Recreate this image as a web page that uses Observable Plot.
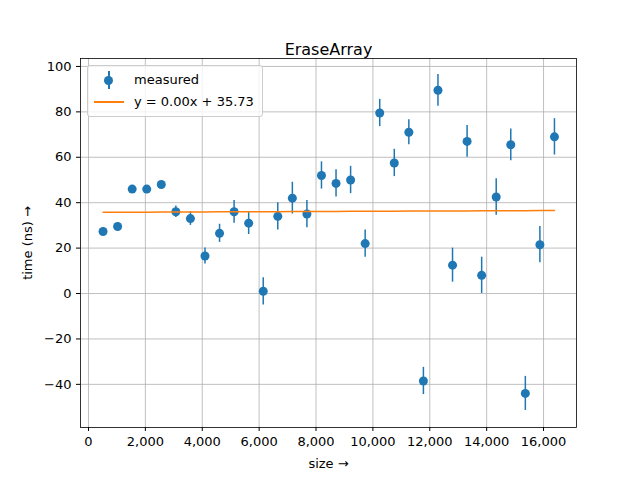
<!DOCTYPE html>
<html><head><meta charset="utf-8">
<script src="https://cdn.jsdelivr.net/npm/d3@7"></script>
<script src="https://cdn.jsdelivr.net/npm/@observablehq/plot@0.6"></script>
<style>
body{margin:0;background:#fff;font-family:"DejaVu Sans",sans-serif}
#wrap{position:relative;width:640px;height:480px}
#legend{position:absolute;left:87px;top:65px;border:1px solid #ccc;border-radius:3px;background:rgba(255,255,255,0.8);padding:3px 8px 3px 6px;font-size:13px;line-height:22px}
.row{display:flex;align-items:center}
.sw{width:30px;height:14px;position:relative;margin-right:10px}
</style>
</head><body>
<div id="wrap"><div id="chart"></div>
<div id="legend">
<div class="row"><div class="sw"><div style="position:absolute;left:14px;top:-2px;width:2px;height:18px;background:#1f77b4"></div><div style="position:absolute;left:10px;top:3px;width:9px;height:9px;border-radius:50%;background:#1f77b4"></div></div>measured</div>
<div class="row"><div class="sw"><div style="position:absolute;left:0;top:6px;width:30px;height:2px;background:#ff7f0e"></div></div>y = 0.00x + 35.73</div>
</div></div>
<script>
const sizes = [512,1024,1536,2048,2560,3072,3584,4096,4608,5120,5632,6144,6656,7168,7680,8192,8704,9216,9728,10240,10752,11264,11776,12288,12800,13312,13824,14336,14848,15360,15872,16384];
const times = [27.3,29.5,46,46,48,36,33,16.5,26.5,36,31,1,34,42,35,52,48.5,50,22,79.5,57.5,71,-38.5,89.5,12.5,67,8,42.5,65.5,-44,21.5,69];
const errors = [1.5,1.5,1,1,1,2.5,3,3.5,4,5,5,6,6,7,6,6,6,6,6,6,6,5.5,6,7,7.5,7,8,8,7,7.5,8,8];
const fitSlope = 0.00005;
const fitIntercept = 35.73;
const xTicks = d3.range(0, 16001, 2000);
const yTicks = d3.range(-40, 101, 20);

const data = sizes.map((s, i) => ({x: s, y: times[i], lo: times[i] - errors[i], hi: times[i] + errors[i]}));
const fit = sizes.map(s => ({x: s, y: fitSlope * s + fitIntercept}));

const plot = Plot.plot({
  width: 640, height: 480,
  marginLeft: 80, marginRight: 64, marginTop: 58, marginBottom: 53,
  style: {fontFamily: "DejaVu Sans", fontSize: "13px", color: "#000"},
  x: {domain: [-281, 17159], ticks: xTicks, tickFormat: d => d, label: "size", labelAnchor: "center", labelOffset: 40, tickSize: 4},
  y: {domain: [-59, 103.5], ticks: yTicks, tickFormat: d => d < 0 ? "\u2212" + Math.abs(d) : d, label: "time (ns)", labelAnchor: "center", labelOffset: 58, tickSize: 4},
  marks: [
    Plot.gridX(xTicks, {stroke: "#b0b0b0", strokeOpacity: 1, strokeWidth: 0.8}),
    Plot.gridY(yTicks, {stroke: "#b0b0b0", strokeOpacity: 1, strokeWidth: 0.8}),
    Plot.frame({stroke: "#000", strokeWidth: 0.8}),
    Plot.ruleX(data, {x: "x", y1: "lo", y2: "hi", stroke: "#1f77b4", strokeWidth: 1.5}),
    Plot.dot(data, {x: "x", y: "y", r: 4.5, fill: "#1f77b4"}),
    Plot.line(fit, {x: "x", y: "y", stroke: "#ff7f0e", strokeWidth: 1.5}),
    Plot.text(["EraseArray"], {frameAnchor: "top", dy: -15, fontSize: 16, text: d => d})
  ]
});
document.getElementById("chart").append(plot);
</script>
</body></html>
